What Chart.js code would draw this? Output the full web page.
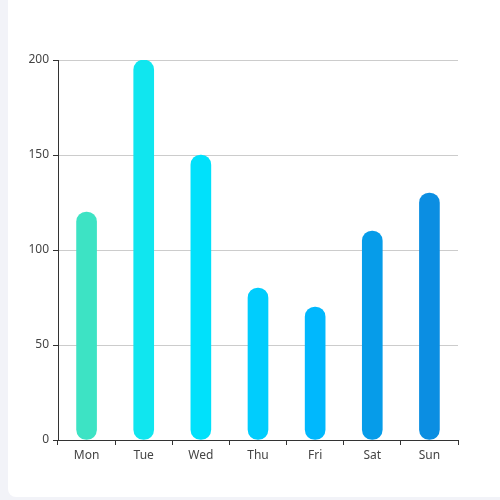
<!DOCTYPE html>
<html>
<head>
<meta charset="utf-8">
<script src="https://cdn.jsdelivr.net/npm/chart.js@4"></script>
<style>
  html, body { margin: 0; padding: 0; background: #f2f3f8; width: 500px; height: 500px; overflow: hidden; }
  .card { position: absolute; left: 8px; top: -10px; width: 510px; height: 507px; background: #fff; border-radius: 8px; }
  canvas { position: absolute; left: 0; top: 0; }
</style>
</head>
<body>
<div class="card"></div>
<canvas id="c" width="500" height="500"></canvas>
<script>
const categories = ['Mon', 'Tue', 'Wed', 'Thu', 'Fri', 'Sat', 'Sun'];
const values = [120, 200, 150, 80, 70, 110, 130];
const barColors = ['#3de3c4', '#10e6ef', '#00e1fb', '#00cdfd', '#00b8fd', '#069ce9', '#0b8ee2'];
const yTicks = [0, 50, 100, 150, 200];

Chart.defaults.font.family = '"Noto Sans", sans-serif';
Chart.defaults.font.size = 12;
Chart.defaults.color = '#444';

new Chart(document.getElementById('c'), {
  type: 'bar',
  data: {
    labels: categories,
    datasets: [{
      data: values,
      backgroundColor: barColors,
      barThickness: 20,
      borderRadius: 10,
      borderSkipped: false
    }]
  },
  options: {
    responsive: false,
    animation: false,
    devicePixelRatio: 1,
    layout: { padding: { left: 0, top: 60, right: 42, bottom: 0 } },
    plugins: { legend: { display: false }, tooltip: { enabled: false } },
    scales: {
      x: {
        grid: { display: true, drawOnChartArea: false, offset: true, tickColor: '#333', tickLength: 5 },
        border: { display: true, color: '#333', width: 1 },
        ticks: { padding: 3, color: '#444' },
        afterFit: s => { s.height = 60; }
      },
      y: {
        min: 0, max: 200,
        afterBuildTicks: s => { s.ticks = yTicks.map(v => ({ value: v })); },
        grid: { color: '#ccc', tickColor: '#333', tickLength: 5 },
        border: { display: true, color: '#333', width: 1 },
        ticks: { padding: 4, color: '#444' },
        afterFit: s => { s.width = 58; }
      }
    }
  }
});
</script>
</body>
</html>
